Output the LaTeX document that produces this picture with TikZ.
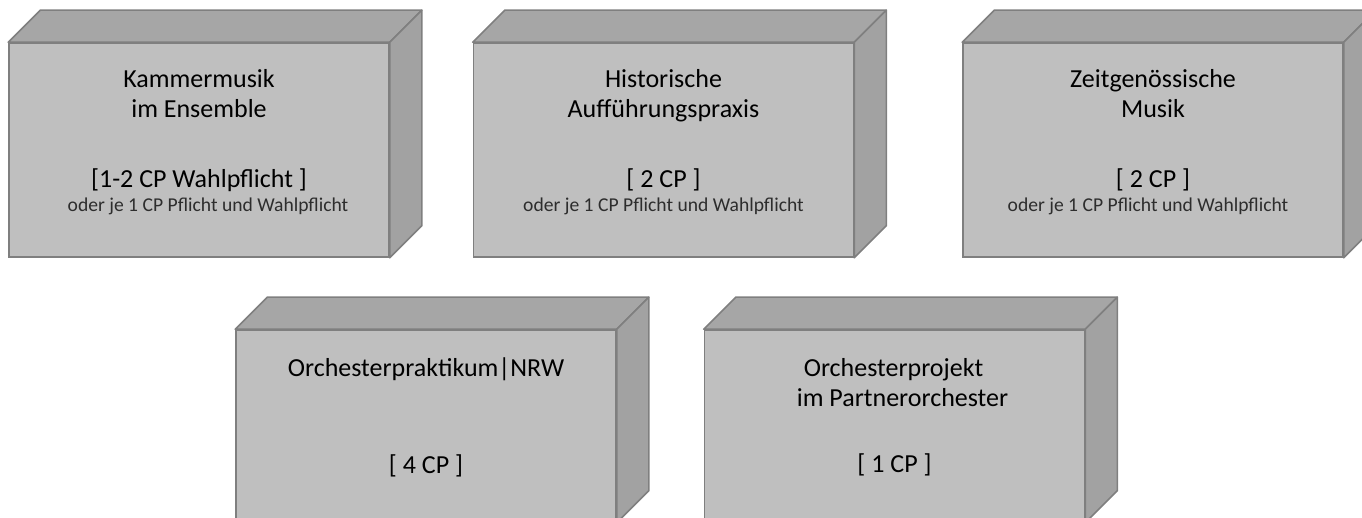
\documentclass[tikz,border=0pt]{standalone}
\usepackage{fontspec}
\setmainfont{Carlito}
\usetikzlibrary{calc}
\definecolor{frontc}{RGB}{191,191,191}
\definecolor{topc}{RGB}{166,166,166}
\definecolor{sidec}{RGB}{162,162,162}
\definecolor{edgec}{RGB}{127,127,127}
\definecolor{smallc}{RGB}{45,45,45}
\tikzset{
  frontface/.style={draw=edgec, fill=frontc, line width=1.2pt, minimum width=285pt, inner sep=0pt},
  topface/.style={draw=edgec, fill=topc, line width=1.2pt, line join=round},
  sideface/.style={draw=edgec, fill=sidec, line width=1.2pt, line join=round},
  ttl/.style={anchor=base, inner sep=0pt, font=\fontsize{19.5}{22}\selectfont, text=black},
  small/.style={anchor=base, inner sep=0pt, font=\fontsize{14.7}{18}\selectfont, text=smallc}
}
\newcommand\cubebox[4]{%
  \node[frontface, minimum height=#4] (#1) at (#2,#3) {};
  \draw[topface] (#1.north west) -- ++(32,32) -- ($(#1.north east)+(32,32)$) -- (#1.north east) -- cycle;
  \draw[sideface] (#1.north east) -- ++(32,32) -- ($(#1.south east)+(32,32)$) -- (#1.south east) -- cycle;
}
\begin{document}
\begin{tikzpicture}[x=0.75pt, y=0.75pt]
\useasboundingbox (0,0) rectangle (1362,517);
\clip (0,0) rectangle (1362,517);
% top row
\cubebox{b1}{199}{367}{160.5pt}
\cubebox{b2}{663.5}{367}{160.5pt}
\cubebox{b3}{1153}{367}{160.5pt}
% bottom row
\cubebox{b4}{426}{91}{144pt}
\cubebox{b5}{894.5}{91}{144pt}
% texts box 1
\node[ttl] (t1a) at ($(b1.north)+(0,-45)$) {Kammermusik};
\node[ttl] (t1b) at ($(b1.north)+(0,-75)$) {im Ensemble};
\node[ttl] (t1c) at ($(b1.north)+(0,-145)$) {[1-2 CP Wahlpflicht ]};
\node[small] (t1d) at ($(b1.north)+(9,-169)$) {oder je 1 CP Pflicht und Wahlpflicht};
% texts box 2
\node[ttl] (t2a) at ($(b2.north)+(0,-45)$) {Historische};
\node[ttl] (t2b) at ($(b2.north)+(0,-75)$) {Aufführungspraxis};
\node[ttl] (t2c) at ($(b2.north)+(0,-145)$) {[ 2 CP ]};
\node[small] (t2d) at ($(b2.north)+(0,-169)$) {oder je 1 CP Pflicht und Wahlpflicht};
% texts box 3
\node[ttl] (t3a) at ($(b3.north)+(0,-45)$) {Zeitgenössische};
\node[ttl] (t3b) at ($(b3.north)+(0,-75)$) {Musik};
\node[ttl] (t3c) at ($(b3.north)+(0,-145)$) {[ 2 CP ]};
\node[small] (t3d) at ($(b3.north)+(-5,-169)$) {oder je 1 CP Pflicht und Wahlpflicht};
% texts box 4
\node[ttl] (t4a) at ($(b4.north)+(0,-47)$) {Orchesterpraktikum|NRW};
\node[ttl] (t4c) at ($(b4.north)+(0,-144)$) {[ 4 CP ]};
% texts box 5
\node[ttl] (t5a) at ($(b5.north)+(-1,-47)$) {Orchesterprojekt};
\node[ttl] (t5b) at ($(b5.north)+(8,-77)$) {im Partnerorchester};
\node[ttl] (t5c) at ($(b5.north)+(0,-143)$) {[ 1 CP ]};
\end{tikzpicture}
\end{document}
